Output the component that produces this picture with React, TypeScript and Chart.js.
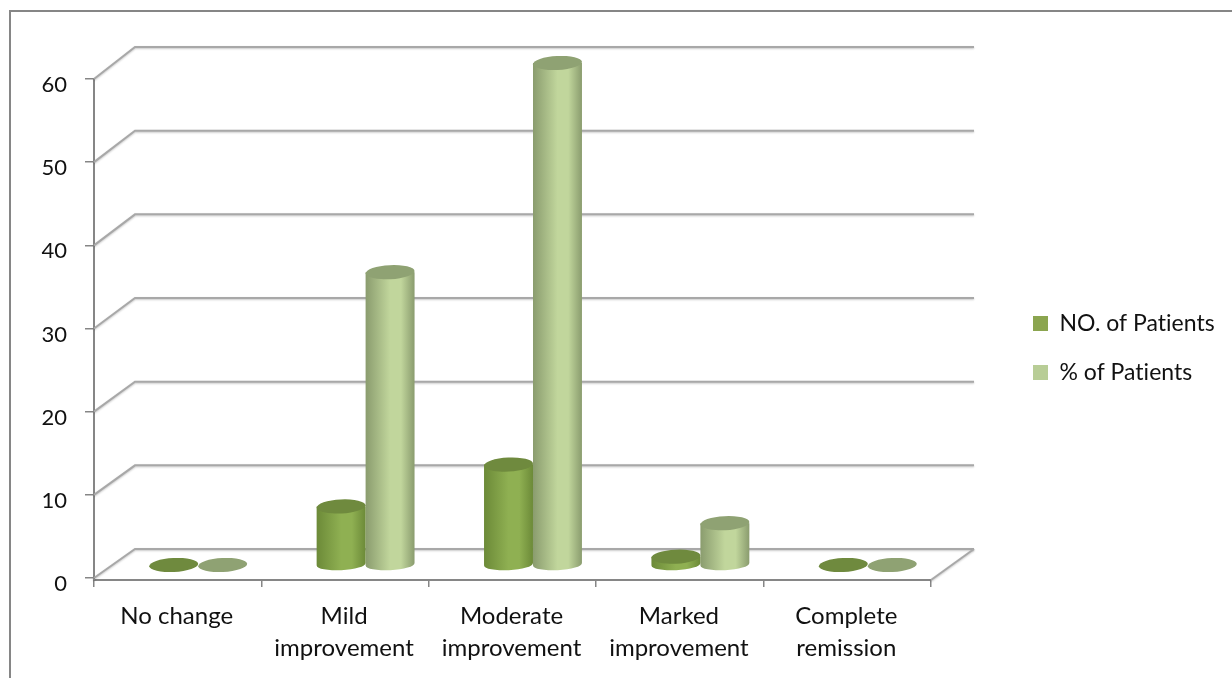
import React, { useEffect, useRef } from "react";
import { Chart, registerables, BarController, BarElement } from "chart.js";

const categories = [
  "No change",
  ["Mild", "improvement"],
  ["Moderate", "improvement"],
  ["Marked", "improvement"],
  ["Complete", "remission"],
];
const patientCounts = [0, 7, 12, 1, 0];
const patientPercents = [0, 35, 60, 5, 0];

const DARK = "#8ba54f";
const LIGHT = "#b8cd96";
const TEXT = "#111111";
const AXIS = "#868686";
const WALL = "#a8a8a8";
const FONT = "Lato";

// Where the columns stand on the floor, relative to the front edge of the axes.
const BAR_SHIFT_X = 20.5;
const BAR_SHIFT_Y = -13;
const BAR_STRETCH = 1.006;
const CAP_RY = 7;
const FOOT_RY = 6;
const CAP_TILT = -0.05;

// Depth of the back wall relative to the front of the plot.
const WALL_DX_LEFT = 41;
const WALL_DX_RIGHT = 43;
const wallLift = (v: number) => 29 + v * 0.05;

const shades: Record<string, { edge: string; mid: string; cap: string }> = {
  [DARK]: { edge: "#6c8a38", mid: "#8fb052", cap: "#6f8a3e" },
  [LIGHT]: { edge: "#8a9c6e", mid: "#c1d69c", cap: "#8fa273" },
};

class CylinderElement extends BarElement {
  static id = "cylinder";
  static defaults = { ...BarElement.defaults };

  draw(ctx: CanvasRenderingContext2D) {
    const { x, y, base, width } = (this as any).getProps(["x", "y", "base", "width"]);
    const tone = shades[(this as any).options.backgroundColor] ?? shades[DARK];
    const cx = x + BAR_SHIFT_X;
    const rx = width / 2;
    const bottom = base + BAR_SHIFT_Y;
    const top = bottom - (base - y) * BAR_STRETCH;

    ctx.save();
    if (bottom - top > 1) {
      const g = ctx.createLinearGradient(cx - rx, 0, cx + rx, 0);
      g.addColorStop(0, tone.edge);
      g.addColorStop(0.5, tone.mid);
      g.addColorStop(0.72, tone.mid);
      g.addColorStop(1, tone.edge);
      ctx.fillStyle = g;
      ctx.beginPath();
      ctx.moveTo(cx - rx, top);
      ctx.lineTo(cx - rx, bottom);
      ctx.ellipse(cx, bottom, rx, FOOT_RY, CAP_TILT, Math.PI, 0, true);
      ctx.lineTo(cx + rx, top);
      ctx.closePath();
      ctx.fill();
    }
    ctx.fillStyle = tone.cap;
    ctx.beginPath();
    ctx.ellipse(cx, top, rx, CAP_RY, CAP_TILT, 0, Math.PI * 2);
    ctx.fill();
    ctx.restore();
  }
}

class CylinderController extends BarController {
  static id = "cylinderBar";
  static defaults = { ...BarController.defaults, dataElementType: "cylinder" };
}

Chart.register(...registerables, CylinderElement, CylinderController);

// Chart border: only the left and top edges fall inside the page.
const framePlugin = {
  id: "frame",
  beforeDraw(chart: any) {
    const { ctx, width, height } = chart;
    // A non-zero spacing keeps the canvas text free of ligatures.
    ctx.letterSpacing = "0.01px";
    ctx.save();
    ctx.strokeStyle = AXIS;
    ctx.lineWidth = 2;
    ctx.beginPath();
    ctx.moveTo(10, height);
    ctx.lineTo(10, 11);
    ctx.lineTo(width, 11);
    ctx.stroke();
    ctx.restore();
  },
};

// Places the legend beside the plot, clear of the back wall.
const legendPlacement = {
  id: "legendPlacement",
  afterLayout(chart: any) {
    const l = chart.legend;
    l.left = 1007;
    l.right = 1232;
    l.top = 286;
    l.bottom = 424;
    chart.scales.x.top += 2;
  },
};

// Back wall, floor edges and the slanted grid segments.
const wallPlugin = {
  id: "wall",
  beforeDatasetsDraw(chart: any) {
    const { ctx } = chart;
    const { x, y } = chart.scales;
    const backLeft = x.left + WALL_DX_LEFT;
    const backRight = x.right + WALL_DX_RIGHT;
    const floorY = y.getPixelForValue(0) + 2;
    ctx.save();
    ctx.strokeStyle = WALL;
    ctx.lineWidth = 2;
    ctx.shadowColor = "rgba(0,0,0,0.22)";
    ctx.shadowBlur = 2;
    ctx.shadowOffsetY = 1;
    for (const t of y.ticks) {
      const front = y.getPixelForValue(t.value);
      const back = front - wallLift(t.value);
      ctx.beginPath();
      ctx.moveTo(x.left, front);
      ctx.lineTo(backLeft, back);
      ctx.lineTo(backRight, back);
      ctx.stroke();
    }
    ctx.beginPath();
    ctx.moveTo(x.right, floorY);
    ctx.lineTo(backRight, y.getPixelForValue(0) - wallLift(0));
    ctx.stroke();
    ctx.strokeStyle = AXIS;
    ctx.beginPath();
    ctx.moveTo(x.left, y.getPixelForValue(0));
    ctx.lineTo(x.left, floorY);
    ctx.stroke();
    ctx.restore();
  },
};

export default function App() {
  const ref = useRef<HTMLCanvasElement | null>(null);

  useEffect(() => {
    const chart = new Chart(ref.current as HTMLCanvasElement, {
      type: "cylinderBar" as any,
      data: {
        labels: categories as any,
        datasets: [
          { label: "NO. of Patients", data: patientCounts, backgroundColor: DARK, borderWidth: 0, clip: false as any },
          { label: "% of Patients", data: patientPercents, backgroundColor: LIGHT, borderWidth: 0, clip: false as any },
        ],
      },
      options: {
        animation: false,
        responsive: false,
        categoryPercentage: 0.585,
        barPercentage: 1,
        layout: { padding: { left: 0, top: 79, right: 301, bottom: 0 } },
        plugins: {
          title: { display: false },
          tooltip: { enabled: false },
          legend: {
            position: "chartArea" as any,
            align: "start",
            labels: {
              boxWidth: 15,
              boxHeight: 15,
              padding: 26,
              color: TEXT,
              font: { family: FONT, size: 23 },
            },
          },
        },
        scales: {
          x: {
            type: "category",
            offset: true,
            afterFit: (s: any) => { s.height = 100; },
            grid: { offset: true, drawOnChartArea: false, color: AXIS, tickColor: AXIS, tickLength: 7, lineWidth: 1.5 },
            border: { color: AXIS, width: 2 },
            ticks: {
              color: TEXT,
              padding: 14,
              labelOffset: -1,
              autoSkip: false,
              maxRotation: 0,
              minRotation: 0,
              font: { family: FONT, size: 24, lineHeight: 1.3 },
            },
          },
          y: {
            type: "linear",
            min: 0,
            max: 60,
            afterFit: (s: any) => { s.width = 94; },
            grid: { drawOnChartArea: false, color: AXIS, tickColor: AXIS, tickLength: 9, lineWidth: 1.5 },
            border: { color: AXIS, width: 2 },
            ticks: {
              stepSize: 10,
              color: TEXT,
              padding: 18,
              labelOffset: 6,
              font: { family: FONT, size: 22 },
            },
          },
        },
      } as any,
      plugins: [framePlugin, legendPlacement, wallPlugin],
    });
    return () => chart.destroy();
  }, []);

  return (
    <canvas
      ref={ref}
      width={1232}
      height={678}
      style={{ position: "fixed", left: 0, top: 0, display: "block" }}
    />
  );
}
